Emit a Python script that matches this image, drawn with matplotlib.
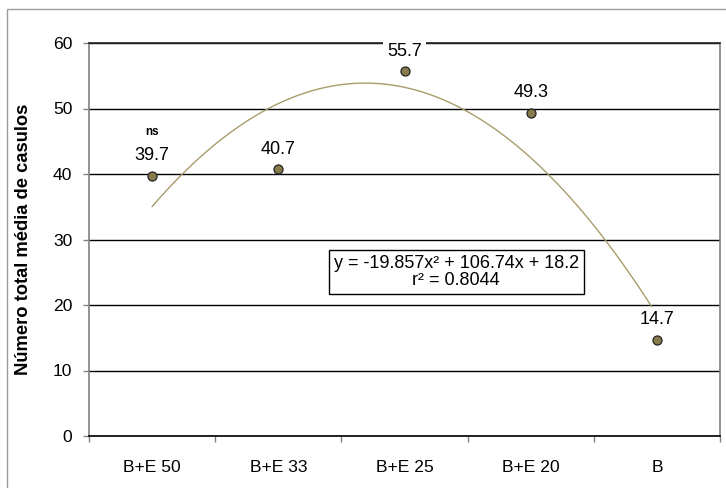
import numpy as np
import matplotlib.pyplot as plt
from matplotlib.patches import Rectangle

plt.rcParams["font.family"] = ["Liberation Sans", "DejaVu Sans"]

categories = ["B+E 50", "B+E 33", "B+E 25", "B+E 20", "B"]
means = [39.7, 40.7, 55.7, 49.3, 14.7]
labels = ["39.7", "40.7", "55.7", "49.3", "14.7"]

# quadratic trend fitted on plot totals (3 replicates), drawn on the mean scale
coef = [-19.857, 106.74, 18.2]
n_rep = 3
r2 = 0.8044

x = np.arange(1, len(categories) + 1)

fig = plt.figure(figsize=(7.26, 4.88), dpi=100)
ax = fig.add_axes([89 / 726, 1 - 436 / 488, (720 - 89) / 726, (436 - 43) / 488])

# outer chart frame
fig.patches.append(Rectangle((7 / 726, -0.1), 1.2, 1 - 9 / 488 + 0.1,
                             transform=fig.transFigure, fill=False,
                             edgecolor="#9a9a9a", linewidth=1.0))

xs = np.linspace(1, 5, 200)
ax.plot(xs, np.polyval(coef, xs) / n_rep, color="#a89c6a", linewidth=1.0, zorder=3)
ax.plot(x, means, "o", markersize=6.5, markerfacecolor="#877b4b",
        markeredgecolor="#222222", markeredgewidth=0.9, zorder=4, clip_on=False)

for xi, yi, lab in zip(x, means, labels):
    ax.annotate(lab, (xi, yi), xytext=(0, 14.5), textcoords="offset points",
                ha="center", va="center", fontsize=13, zorder=5,
                annotation_clip=False,
                bbox=dict(boxstyle="square,pad=0.25", facecolor="white", edgecolor="none"))

ax.annotate("ns", (x[0], means[0]), xytext=(0, 32), textcoords="offset points",
            ha="center", va="center", fontsize=8.5, fontweight="bold")

ax.text(3.41, 25.1, f"y = -19.857x² + 106.74x + 18.2\nr² = {r2}",
        ha="center", va="center", fontsize=13, linespacing=1.0, zorder=5,
        bbox=dict(boxstyle="square,pad=0.28", facecolor="white",
                  edgecolor="black", linewidth=1.0))

ax.set_xlim(0.5, 5.5)
ax.set_ylim(0, 60)
ax.set_yticks(range(0, 61, 10))
ax.set_xticks(x)
ax.set_xticklabels(categories)
ax.set_xticks(np.arange(0.5, 5.6, 1), minor=True)
ax.tick_params(axis="x", which="major", length=0, pad=17, labelsize=12.6)
ax.tick_params(axis="x", which="minor", length=4, color="#808080", width=1)
ax.tick_params(axis="y", length=4, color="#808080", width=1, pad=8, labelsize=12.6)
ax.yaxis.grid(True, color="black", linewidth=1.0)
ax.set_axisbelow(True)

ax.spines["left"].set_color("#808080")
ax.spines["right"].set_color("#808080")
ax.spines["top"].set_color("#222222")
ax.spines["bottom"].set_color("black")
for s in ax.spines.values():
    s.set_linewidth(1.2)

ax.set_ylabel("Número total média de casulos", fontsize=13.2, fontweight="bold")
ax.yaxis.set_label_coords(-(89 - 32) / (720 - 89), 0.5)

fig.savefig("out.png", dpi=100)
